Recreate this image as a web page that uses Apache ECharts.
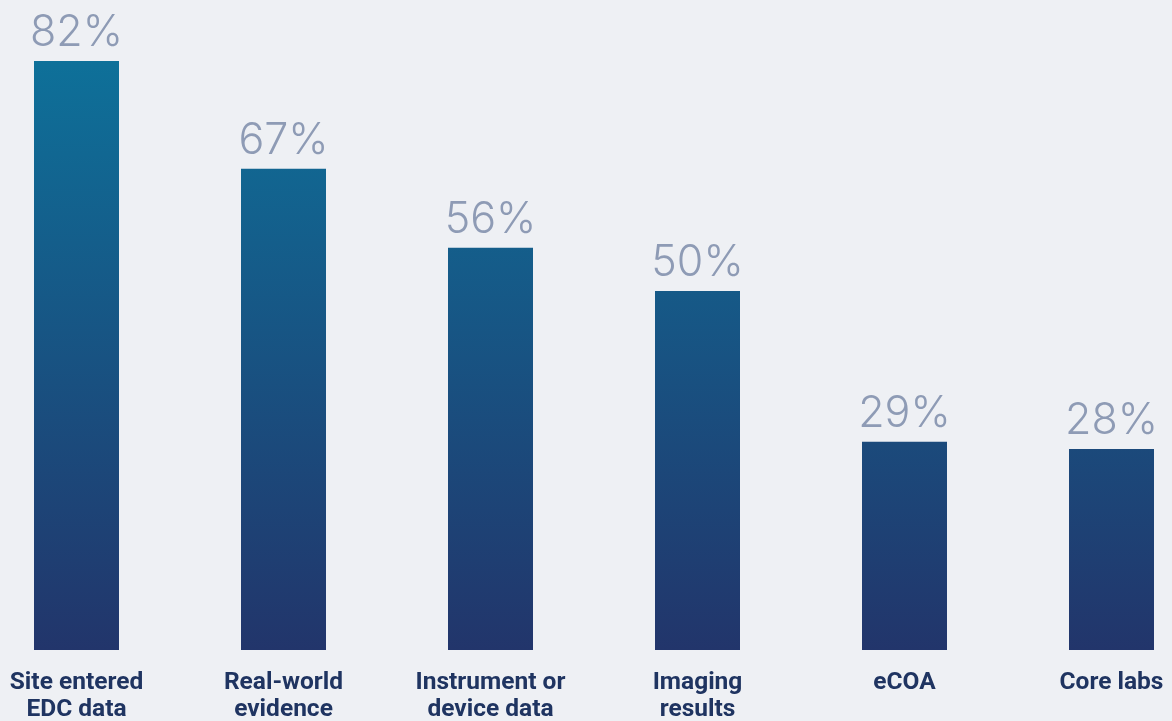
<!DOCTYPE html>
<html>
<head>
<meta charset="utf-8">
<script src="https://cdn.jsdelivr.net/npm/echarts@6/dist/echarts.min.js"></script>
<style>
  html, body { margin: 0; padding: 0; background: #eef0f4; }
  #chart { width: 1172px; height: 721px; }
</style>
</head>
<body>
<div id="chart"></div>
<script>
const categories = [
  'Site entered\nEDC data',
  'Real-world\nevidence',
  'Instrument or\ndevice data',
  'Imaging\nresults',
  'eCOA',
  'Core labs'
]
const values = [82, 67, 56, 50, 29, 28]

const chart = echarts.init(document.getElementById('chart'))

// colour follows page height, so every bar shares the same gradient
const barColor = new echarts.graphic.LinearGradient(0, 0, 0, 650, [
  { offset: 0, color: '#0d7aa3' },
  { offset: 0.1, color: '#0e7099' },
  { offset: 1, color: '#22356b' }
], true)

const option = {
  backgroundColor: '#eef0f4',
  animation: false,
  grid: {
    left: -27,
    right: -43,
    top: 0,
    bottom: 71,
    outerBoundsMode: 'none',
    containLabel: false
  },
  xAxis: {
    type: 'category',
    data: categories,
    axisLine: { show: false },
    axisTick: { show: false },
    axisLabel: {
      interval: 0,
      margin: 19,
      color: '#1f3461',
      fontFamily: 'Roboto',
      fontWeight: 'bold',
      fontSize: 24.5,
      lineHeight: 27
    }
  },
  yAxis: {
    type: 'value',
    min: 0,
    max: 90.5,
    show: false,
    splitLine: { show: false }
  },
  series: [
    {
      type: 'bar',
      data: values,
      barWidth: 85,
      itemStyle: { color: barColor },
      label: {
        show: true,
        position: 'top',
        distance: 6,
        formatter: '{c}%',
        color: '#8e9bb5',
        fontFamily: 'Inter',
        fontWeight: 300,
        fontSize: 43
      }
    }
  ]
}
chart.setOption(option)
</script>
</body>
</html>
